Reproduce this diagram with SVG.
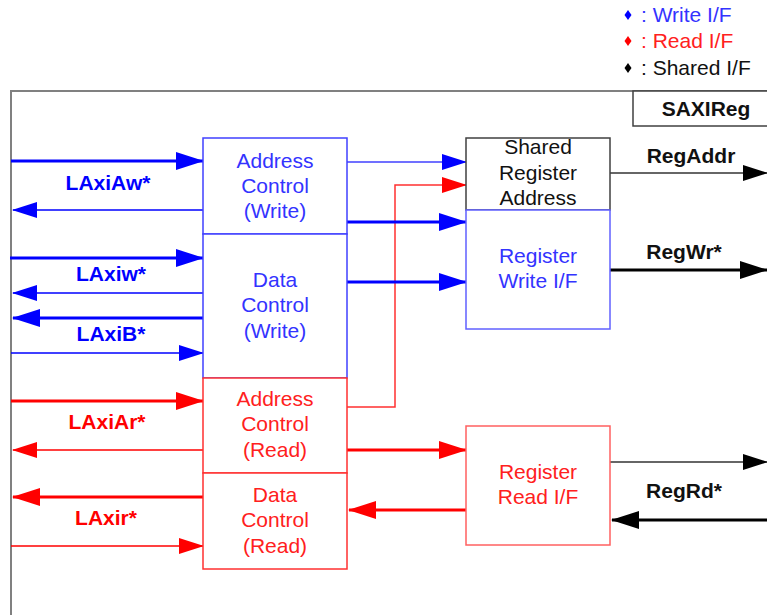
<svg xmlns="http://www.w3.org/2000/svg" width="767" height="615" viewBox="0 0 767 615">
<style>
.t{font-family:"Liberation Sans",Arial,sans-serif;font-size:21px;text-anchor:middle}
.b{font-family:"Liberation Sans",Arial,sans-serif;font-size:21px;font-weight:bold;text-anchor:middle}
.bl{fill:#3333ff}.rd{fill:#ff2020}.bk{fill:#111}
.box{fill:#fff;stroke-width:1.5}
</style>
<defs>
<marker id="hbB" markerWidth="28" markerHeight="18" refX="27" refY="9" orient="auto" markerUnits="userSpaceOnUse"><path d="M0,0 L28,9 L0,18 z" fill="#0000ff"/></marker>
<marker id="hbS" markerWidth="25" markerHeight="16" refX="24" refY="8" orient="auto" markerUnits="userSpaceOnUse"><path d="M0,0 L25,8 L0,16 z" fill="#0000ff"/></marker>
<marker id="hrB" markerWidth="28" markerHeight="18" refX="27" refY="9" orient="auto" markerUnits="userSpaceOnUse"><path d="M0,0 L28,9 L0,18 z" fill="#ff0000"/></marker>
<marker id="hrS" markerWidth="25" markerHeight="16" refX="24" refY="8" orient="auto" markerUnits="userSpaceOnUse"><path d="M0,0 L25,8 L0,16 z" fill="#ff0000"/></marker>
<marker id="hkB" markerWidth="28" markerHeight="18" refX="27" refY="9" orient="auto" markerUnits="userSpaceOnUse"><path d="M0,0 L28,9 L0,18 z" fill="#000"/></marker>
<marker id="hkS" markerWidth="25" markerHeight="16" refX="24" refY="8" orient="auto" markerUnits="userSpaceOnUse"><path d="M0,0 L25,8 L0,16 z" fill="#000"/></marker>
</defs>

<g id="legend">
<path d="M628,10 L631.5,15 L628,20 L624.5,15 z" fill="#0000ff"/>
<path d="M628,36 L631.5,41 L628,46 L624.5,41 z" fill="#ff0000"/>
<path d="M628,63 L631.5,68 L628,73 L624.5,68 z" fill="#000"/>
<text x="641" y="22" class="t bl" style="text-anchor:start">: Write I/F</text>
<text x="641" y="48" class="t rd" style="text-anchor:start">: Read I/F</text>
<text x="641" y="75" class="t bk" style="text-anchor:start">: Shared I/F</text>
</g>

<g id="frame">
<path d="M11,615 L11,91 L767,91" fill="none" stroke="#808080" stroke-width="2"/>
</g>
<g id="saxireg">
<rect x="633" y="91" width="140" height="35" fill="#fff" stroke="#404040" stroke-width="1.5"/>
<text x="706" y="116" class="b bk">SAXIReg</text>
</g>

<g id="connectors" fill="none">
<line x1="11" y1="161" x2="203" y2="161" stroke="#0000ff" stroke-width="3" marker-end="url(#hbB)"/>
<line x1="203" y1="210" x2="13" y2="210" stroke="#0000ff" stroke-width="1.5" marker-end="url(#hbS)"/>
<line x1="10" y1="258" x2="203" y2="258" stroke="#0000ff" stroke-width="3" marker-end="url(#hbB)"/>
<line x1="203" y1="293" x2="13" y2="293" stroke="#0000ff" stroke-width="1.5" marker-end="url(#hbS)"/>
<line x1="205" y1="318" x2="13" y2="318" stroke="#0000ff" stroke-width="3" marker-end="url(#hbB)"/>
<line x1="11" y1="353" x2="203" y2="353" stroke="#0000ff" stroke-width="1.5" marker-end="url(#hbS)"/>
<line x1="11" y1="401" x2="203" y2="401" stroke="#ff0000" stroke-width="3" marker-end="url(#hrB)"/>
<line x1="203" y1="450" x2="13" y2="450" stroke="#ff0000" stroke-width="1.5" marker-end="url(#hrS)"/>
<line x1="205" y1="497" x2="13" y2="497" stroke="#ff0000" stroke-width="3" marker-end="url(#hrB)"/>
<line x1="11" y1="546" x2="203" y2="546" stroke="#ff0000" stroke-width="1.5" marker-end="url(#hrS)"/>
<line x1="347" y1="162" x2="466" y2="162" stroke="#4040ff" stroke-width="1.5" marker-end="url(#hbS)"/>
<polyline points="347,407 395,407 395,185 466,185" stroke="#ff3030" stroke-width="1.5" marker-end="url(#hrS)"/>
<line x1="347" y1="222" x2="466" y2="222" stroke="#0000ff" stroke-width="3" marker-end="url(#hbB)"/>
<line x1="347" y1="282" x2="466" y2="282" stroke="#0000ff" stroke-width="3" marker-end="url(#hbB)"/>
<line x1="347" y1="450" x2="466" y2="450" stroke="#ff0000" stroke-width="3" marker-end="url(#hrB)"/>
<line x1="468" y1="510" x2="349" y2="510" stroke="#ff0000" stroke-width="3" marker-end="url(#hrB)"/>
<line x1="610" y1="173" x2="767" y2="173" stroke="#333" stroke-width="1.5" marker-end="url(#hkS)"/>
<line x1="610" y1="270" x2="767" y2="270" stroke="#000" stroke-width="3" marker-end="url(#hkB)"/>
<line x1="610" y1="462" x2="767" y2="462" stroke="#333" stroke-width="1.5" marker-end="url(#hkS)"/>
<line x1="767" y1="520" x2="612" y2="520" stroke="#000" stroke-width="3" marker-end="url(#hkB)"/>
</g>

<g id="labels">
<text x="108" y="190" class="b" fill="#0000ff">LAxiAw*</text>
<text x="111" y="281" class="b" fill="#0000ff">LAxiw*</text>
<text x="111" y="341" class="b" fill="#0000ff">LAxiB*</text>
<text x="107" y="429" class="b" fill="#ff0000">LAxiAr*</text>
<text x="106" y="525" class="b" fill="#ff0000">LAxir*</text>
<text x="691" y="163" class="b bk">RegAddr</text>
<text x="684" y="259" class="b bk">RegWr*</text>
<text x="684" y="498" class="b bk">RegRd*</text>
</g>

<g id="addr-ctrl-write">
<rect x="203" y="138" width="144" height="96" class="box" stroke="#4040ff"/>
<text class="t bl"><tspan x="275" y="168">Address</tspan><tspan x="275" y="193">Control</tspan><tspan x="275" y="218">(Write)</tspan></text>
</g>
<g id="data-ctrl-write">
<rect x="203" y="234" width="144" height="144" class="box" stroke="#4040ff"/>
<text class="t bl"><tspan x="275" y="287">Data</tspan><tspan x="275" y="312">Control</tspan><tspan x="275" y="338">(Write)</tspan></text>
</g>
<g id="addr-ctrl-read">
<rect x="203" y="378" width="144" height="95" class="box" stroke="#ff3030"/>
<text class="t rd"><tspan x="275" y="406">Address</tspan><tspan x="275" y="431">Control</tspan><tspan x="275" y="457">(Read)</tspan></text>
</g>
<g id="data-ctrl-read">
<rect x="203" y="473" width="144" height="96" class="box" stroke="#ff3030"/>
<text class="t rd"><tspan x="275" y="502">Data</tspan><tspan x="275" y="527">Control</tspan><tspan x="275" y="553">(Read)</tspan></text>
</g>
<g id="shared-reg-addr">
<rect x="466" y="138" width="144" height="72" class="box" stroke="#404040"/>
<text class="t bk"><tspan x="538" y="154">Shared</tspan><tspan x="538" y="180">Register</tspan><tspan x="538" y="205">Address</tspan></text>
</g>
<g id="reg-write-if">
<rect x="466" y="210" width="144" height="119" class="box" stroke="#6060ff"/>
<text class="t bl"><tspan x="538" y="263">Register</tspan><tspan x="538" y="288">Write I/F</tspan></text>
</g>
<g id="reg-read-if">
<rect x="466" y="426" width="144" height="119" class="box" stroke="#ff6060"/>
<text class="t rd"><tspan x="538" y="479">Register</tspan><tspan x="538" y="504">Read I/F</tspan></text>
</g>
</svg>
